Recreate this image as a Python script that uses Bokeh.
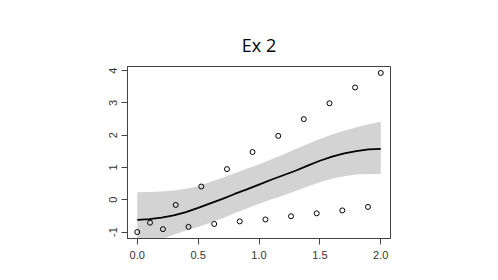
from bokeh.plotting import figure
from bokeh.models import Range1d, FixedTicker, ColumnDataSource
from bokeh.embed import file_html
from bokeh.resources import INLINE

# observed points
pt_x = [0.0, 0.105, 0.211, 0.316, 0.421, 0.526, 0.632, 0.737, 0.842, 0.947,
        1.053, 1.158, 1.263, 1.368, 1.474, 1.579, 1.684, 1.789, 1.895, 2.0]
pt_y = [-1.0, -0.71, -0.91, -0.16, -0.84, 0.41, -0.75, 0.95, -0.67, 1.48,
        -0.61, 1.98, -0.51, 2.5, -0.42, 2.99, -0.33, 3.48, -0.22, 3.93]

# fitted curve and confidence band
fit_x = [0.0, 0.1, 0.2, 0.3, 0.4, 0.5, 0.6, 0.7, 0.8, 0.9, 1.0,
         1.1, 1.2, 1.3, 1.4, 1.5, 1.6, 1.7, 1.8, 1.9, 2.0]
fit_y = [-0.62, -0.60, -0.55, -0.48, -0.38, -0.25, -0.11, 0.03, 0.18, 0.32, 0.47,
         0.62, 0.76, 0.90, 1.06, 1.21, 1.34, 1.44, 1.51, 1.56, 1.58]
band_hi = [0.23, 0.24, 0.26, 0.29, 0.34, 0.42, 0.55, 0.68, 0.82, 0.96, 1.10,
           1.25, 1.40, 1.57, 1.73, 1.88, 2.02, 2.14, 2.25, 2.34, 2.42]
band_lo = [-1.45, -1.35, -1.22, -1.08, -0.95, -0.84, -0.71, -0.57, -0.42, -0.27, -0.12,
           0.01, 0.13, 0.27, 0.41, 0.54, 0.65, 0.73, 0.78, 0.80, 0.80]

x_ticks = [0.0, 0.5, 1.0, 1.5, 2.0]
x_labels = ["0.0", "0.5", "1.0", "1.5", "2.0"]
y_ticks = [-1, 0, 1, 2, 3, 4]
y_labels = ["-1", "0", "1", "2", "3", "4"]

p = figure(width=490, height=272, output_backend="svg", toolbar_location=None,
           x_range=Range1d(-0.08, 2.08), y_range=Range1d(-1.2, 4.13),
           min_border_left=127, min_border_right=100, min_border_top=66,
           min_border_bottom=34, title="Ex 2")
p.title.align = "center"
p.title.text_font = "Open Sans"
p.title.text_font_size = "18px"
p.title.text_font_style = "normal"
p.title.text_color = "black"
p.title.standoff = 20

p.background_fill_color = "white"
p.border_fill_color = "white"
p.outline_line_color = "#444444"
p.outline_line_width = 1
p.grid.visible = False

band = ColumnDataSource(dict(x=fit_x, lo=band_lo, hi=band_hi, y=fit_y))
p.varea(x="x", y1="lo", y2="hi", source=band, fill_color="#d3d3d3", fill_alpha=1)
p.line(x="x", y="y", source=band, line_color="black", line_width=1.8)
p.scatter(pt_x, pt_y, marker="circle", size=5, fill_color=None,
          line_color="black", line_width=1)

for ax, ticks, labels in ((p.xaxis[0], x_ticks, x_labels), (p.yaxis[0], y_ticks, y_labels)):
    ax.ticker = FixedTicker(ticks=ticks)
    ax.major_label_overrides = {t: l for t, l in zip(ticks, labels)}
    ax.minor_tick_line_color = None
    ax.major_tick_in = 0
    ax.major_tick_out = 6
    ax.axis_line_color = "#444444"
    ax.major_tick_line_color = "#444444"
    ax.major_label_text_font = "Liberation Sans"
    ax.major_label_text_font_size = "11px"
    ax.major_label_text_color = "#333333"
    ax.major_label_standoff = 4
p.xaxis[0].major_label_standoff = 6
p.yaxis[0].major_label_orientation = "vertical"

open("out.html", "w").write(file_html(p, INLINE))
